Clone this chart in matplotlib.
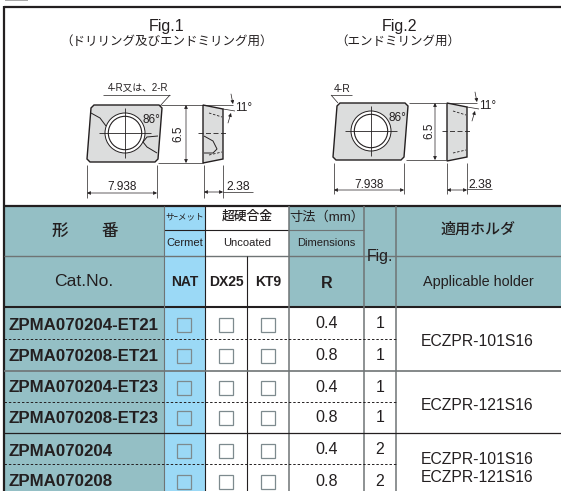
import matplotlib
matplotlib.use('Agg')
from matplotlib import pyplot as plt
from matplotlib.patches import Rectangle, Polygon, Circle

plt.rcParams['font.family'] = ['Liberation Sans', 'Noto Sans CJK JP', 'DejaVu Sans']

cat_no = ['ZPMA070204-ET21', 'ZPMA070208-ET21', 'ZPMA070204-ET23', 'ZPMA070208-ET23', 'ZPMA070204', 'ZPMA070208']
r_values = ['0.4', '0.8', '0.4', '0.8', '0.4', '0.8']
fig_no = ['1', '1', '1', '1', '2', '2']
holders = ['ECZPR-101S16', 'ECZPR-121S16', 'ECZPR-101S16\nECZPR-121S16']
grades = ['NAT', 'DX25', 'KT9']

# column edges, row centres and rules in pixels
col_x = [4, 164, 205, 247, 289, 364, 396, 561]
row_c = [324.5, 356, 387.5, 418, 450.5, 481.5]
holder_c = [341, 405, 468]
teal = '#94bfc5'
blue = '#9bd9f6'
ink = '#231f20'
gray = '#6f7475'

fig = plt.figure(figsize=(5.61, 4.91), dpi=100)
ax = fig.add_axes([0, 0, 1, 1])
ax.set_xlim(0, 561)
ax.set_ylim(491, 0)
ax.axis('off')


def line(xs, ys, lw=0.7, c=ink, ls='-', z=5):
    ax.plot(xs, ys, lw=lw, color=c, ls=ls, zorder=z, solid_capstyle='butt')


def txt(x, y, s, size=9, weight='normal', c=ink, ha='center'):
    ax.text(x, y, s, fontsize=size, fontweight=weight, color=c, ha=ha, va='center', zorder=6)


def box(x0, y0, x1, y1, c):
    ax.add_patch(Rectangle((x0, y0), x1 - x0, y1 - y0, fc=c, ec='none', zorder=1))


def arrow(x0, y0, x1, y1, style='-|>'):
    ax.annotate('', xy=(x1, y1), xytext=(x0, y0),
                arrowprops=dict(arrowstyle=style, lw=0.5, color=ink, mutation_scale=5, shrinkA=0, shrinkB=0), zorder=6)


def insert(ox, oy, fig1):
    # top view of the insert
    h = 57
    pts = [(ox + 5, oy), (ox + 70, oy), (ox + 73, oy + 3), (ox + 69, oy + h - 3), (ox + 66, oy + h),
           (ox + 1, oy + h), (ox - 2, oy + h - 3), (ox + 2, oy + 3)]
    ax.add_patch(Polygon(pts, fc='#dcdddd', ec=ink, lw=1.0, zorder=3))
    cx, cy = ox + 36, oy + 28
    ax.add_patch(Circle((cx, cy), 20, fc='white', ec=ink, lw=0.7, zorder=4))
    ax.add_patch(Circle((cx, cy), 16.7, fc='white', ec=ink, lw=0.8, zorder=4))
    line([cx - 26, cx + 26], [cy, cy], 0.6, z=5)
    line([cx, cx], [cy - 25, cy + 25], 0.6, z=5)
    txt(ox + 62, oy + 15, '86°', 8.5)
    if fig1:
        line([ox + 2, ox + 11, ox + 17], [oy + 8, oy + 13, oy + 21], 0.7)
        line([ox + 69, ox + 58, ox + 54, ox + 58, ox + 68], [oy + 31, oy + 32, oy + 37, oy + 42, oy + 48], 0.7)


def side(ox, oy, fig1):
    # side view with the 11 degree relief
    ax.add_patch(Polygon([(ox, oy), (ox + 20, oy + 4), (ox + 20, oy + 54), (ox, oy + 58)],
                         fc='#dcdddd', ec=ink, lw=1.0, zorder=3))
    line([ox - 5, ox + 25], [oy + 28, oy + 28], 0.6, ls=(0, (6, 3)))
    line([ox + 6, ox + 19], [oy + 8, oy + 12], 0.6, ls=(0, (3, 2)))
    line([ox + 6, ox + 19], [oy + 50, oy + 47], 0.6, ls=(0, (3, 2)))
    if fig1:
        line([ox + 1, ox + 10, ox + 14, ox + 10, ox + 1], [oy + 31, oy + 36, oy + 44, oy + 48, oy + 48], 0.7)
    line([ox, ox + 30], [oy, oy], 0.5)
    line([ox + 20, ox + 32], [oy + 4, oy + 6], 0.5)
    arrow(ox + 28, oy - 11, ox + 30, oy - 1)
    arrow(ox + 25, oy + 18, ox + 28, oy + 8)
    txt(ox + 41, oy + 3, '11°', 8.5)


# header and body fills
box(col_x[0], 206, col_x[1], 491, teal)
box(col_x[1], 206, col_x[2], 491, blue)
box(col_x[4], 206, col_x[6], 307, teal)
box(col_x[6], 206, col_x[7], 307, teal)

# top fragment of the heading, cut by the picture edge
ax.add_patch(Rectangle((5, 0), 23, 1.2, fc='#a8a8a8', ec='none', zorder=2))
line([4, 561], [6.5, 6.5], 1.6)
line([4, 4], [6, 491], 1.6)
line([4, 561], [206, 206], 1.6)

# figures
txt(167, 26.5, 'Fig.1', 11.5)
txt(167, 42, '（ドリリング及びエンドミリング用）', 9)
txt(400, 26.5, 'Fig.2', 11.5)
txt(398, 42, '（エンドミリング用）', 9)

insert(89, 105, True)
side(203, 105, True)
insert(335, 103, False)
side(447, 103, False)

# Fig.1 dimensions
txt(138, 88, '4-R又は、2-R', 7)
line([103, 170], [95, 95], 0.5)
line([170, 160], [95, 106], 0.5)
line([161, 203], [105, 105], 0.5)
line([158, 203], [163, 163], 0.5)
arrow(186, 163, 186, 105, '<|-|>')
ax.text(178, 134, '6.5', fontsize=8.5, rotation=90, ha='center', va='center', color=ink)
line([87, 87], [165, 198], 0.5)
line([157, 157], [165, 198], 0.5)
arrow(157, 193, 87, 193, '<|-|>')
txt(122, 187.5, '7.938', 8.5)
line([204, 204], [165, 198], 0.5)
line([223, 223], [165, 198], 0.5)
line([223, 253], [192, 192], 0.5)
arrow(223, 192, 204, 192, '<|-|>')
txt(238, 187.5, '2.38', 8.8)

# Fig.2 dimensions
txt(342, 89, '4-R', 7.5)
line([331, 352], [95, 95], 0.5)
line([331, 338], [95, 103], 0.5)
line([409, 446], [103, 103], 0.5)
line([406, 446], [160, 160], 0.5)
arrow(435, 160, 435, 103, '<|-|>')
ax.text(429, 131, '6.5', fontsize=8.5, rotation=90, ha='center', va='center', color=ink)
line([334, 334], [163, 194], 0.5)
line([404, 404], [163, 194], 0.5)
arrow(404, 190, 334, 190, '<|-|>')
txt(369, 184.5, '7.938', 8.5)
line([447, 447], [163, 194], 0.5)
line([467, 467], [163, 194], 0.5)
line([467, 492], [189, 189], 0.5)
arrow(467, 190, 447, 190, '<|-|>')
txt(480, 184.5, '2.38', 8.8)

# table header
txt(85, 231.5, '形　　番', 12, 'medium')
txt(84, 281.5, 'Cat.No.', 12.6)
txt(184.5, 217, 'サｰメット', 6.2)
txt(184.5, 243, 'Cermet', 8)
txt(247, 217, '超硬合金', 9.2, 'medium')
txt(247, 243, 'Uncoated', 8)
for i, g in enumerate(grades):
    txt((col_x[i + 1] + col_x[i + 2]) / 2, 282, g, 10, 'bold')
txt(326.5, 217.5, '寸法（mm）', 9.5)
txt(326.5, 243, 'Dimensions', 8)
txt(326.5, 283, 'R', 11.5, 'bold')
txt(380, 256, 'Fig.', 11.4)
txt(478, 230, '適用ホルダ', 10.8, 'medium')
txt(478, 282, 'Applicable holder', 10.4)

# table body
for i, name in enumerate(cat_no):
    yc = row_c[i]
    txt(9, yc + 0.5, name, 12.2, 'bold', ha='left')
    for j in range(3):
        xc = (col_x[j + 1] + col_x[j + 2]) / 2
        ax.add_patch(Rectangle((xc - 7, yc - 7), 14, 14, fc='white' if j else blue, ec='#7d8a8e', lw=0.9, zorder=4))
    txt(326.5, yc - 0.5, r_values[i], 11.6)
    txt(380, yc - 0.5, fig_no[i], 11.4)
for k, h in enumerate(holders):
    ax.text(477.5, holder_c[k], h, fontsize=11.3, color=ink, ha='center', va='center',
            linespacing=1.25, zorder=6)

# grid lines
line([4, 561], [255.5, 255.5], 1.0, gray)
line([4, 561], [307, 307], 1.5)
line([164, 289], [230, 230], 0.8)
line([289, 364], [230, 230], 0.8, gray)
line([164, 164], [206, 491], 0.8, gray)
line([205, 205], [206, 491], 0.8)
line([247, 247], [256, 491], 0.8)
line([289, 289], [206, 491], 1.1, gray)
line([364, 364], [206, 491], 1.1, gray)
line([396, 396], [206, 491], 1.1, gray)
for y in [338.5, 401.5, 464]:
    line([4, 396], [y, y], 0.7, ink, ls=(0, (2.5, 2)))
line([4, 561], [370.5, 370.5], 1.2, gray)
line([4, 561], [432.5, 432.5], 0.9)

fig.savefig('out.png', dpi=100)
